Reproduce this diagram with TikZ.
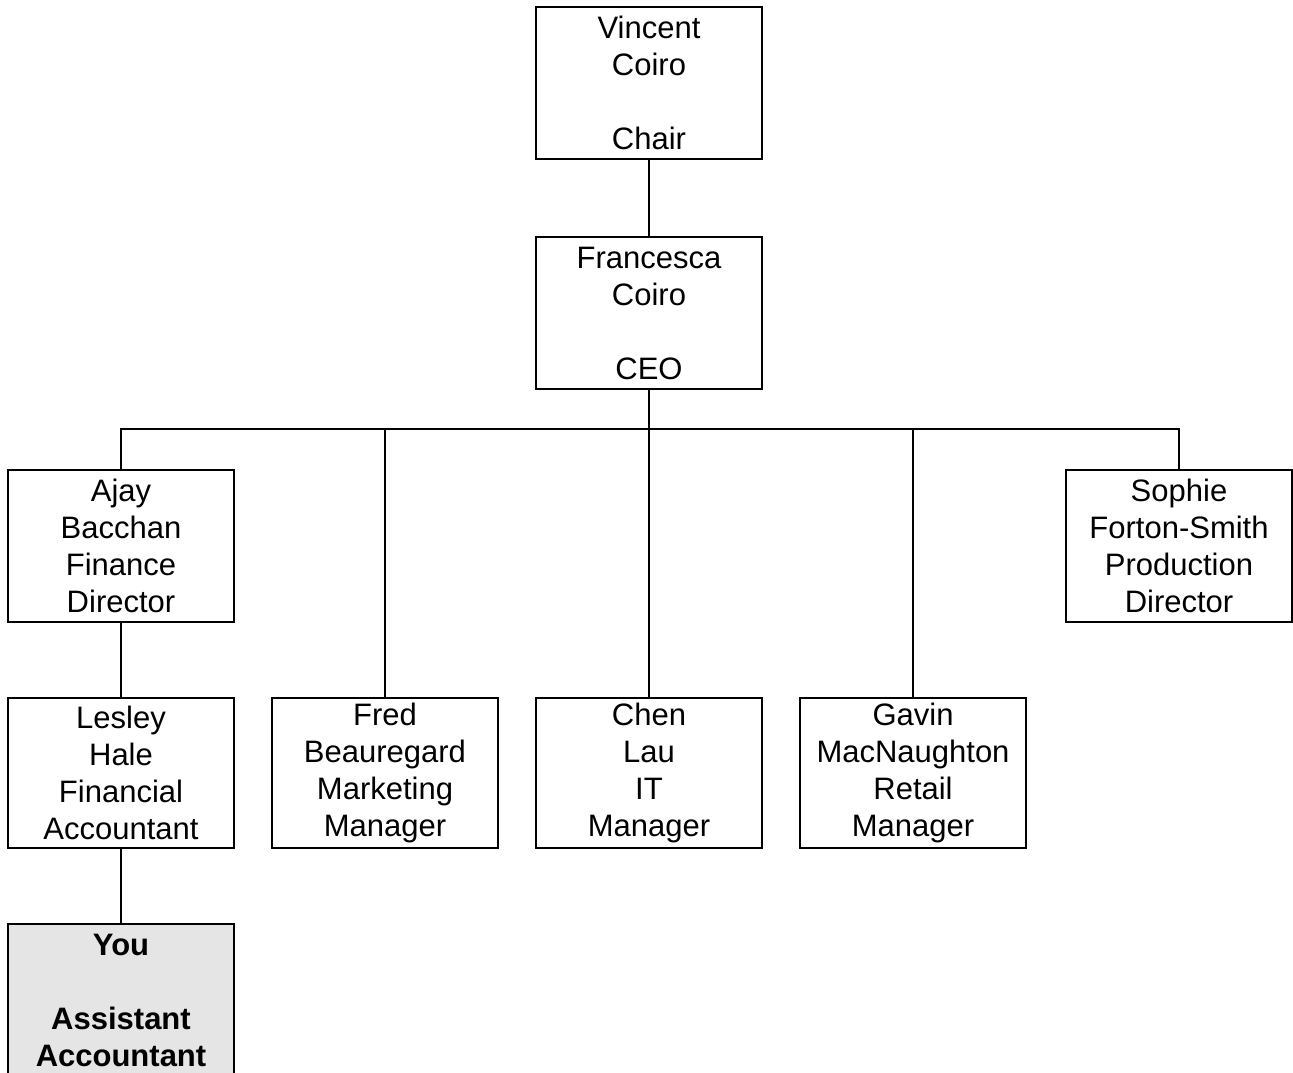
\documentclass[tikz,border=0pt]{standalone}
\usepackage{fontspec}
\setmainfont{Liberation Sans}
\usetikzlibrary{positioning}

\begin{document}
\begin{tikzpicture}[x=1pt,y=1pt,
    person/.style={draw,line width=2.5pt,outer sep=0pt,minimum width=226pt,minimum height=152pt,
      inner sep=2pt,align=center,font=\fontsize{31}{37}\selectfont},
    link/.style={line width=2.5pt}]
    \useasboundingbox (0,0) rectangle (1293,-1072);
    \node[person] (chair) at (649,-83) {Vincent\\Coiro\\ \mbox{}\\Chair};
    \node[person] (ceo) [below=78pt of chair] {Francesca\\Coiro\\ \mbox{}\\CEO};
    \coordinate[below=40pt of ceo] (bus);
    \node[person] (ajay) at (121,-546) {Ajay\\Bacchan\\Finance\\Director};
    \node[person] (sophie) at (1179,-546) {Sophie\\Forton-Smith\\Production\\Director};
    \node[person,minimum height=150pt] (lesley) [below=76pt of ajay] {Lesley\\Hale\\Financial\\Accountant};
    \node[person,minimum height=150pt] (fred) [right=38pt of lesley] {Fred\\Beauregard\\Marketing\\Manager};
    \node[person,minimum height=150pt] (chen) [right=38pt of fred] {Chen\\Lau\\IT\\Manager};
    \node[person,minimum height=150pt] (gavin) [right=38pt of chen] {Gavin\\MacNaughton\\Retail\\Manager};
    \node[person,fill=black!10,font=\fontsize{31}{37}\selectfont\bfseries] (you) [below=76pt of lesley]
      {You\\ \mbox{}\\Assistant\\Accountant};% bottom edge runs off the page
    \draw[link] (chair) -- (ceo);
    \draw[link] (ceo) -- (bus);
    \foreach \n in {ajay,fred,chen,gavin,sophie}
      \draw[link] (bus) -| (\n);
    \draw[link] (ajay) -- (lesley);
    \draw[link] (lesley) -- (you);
\end{tikzpicture}
\end{document}
